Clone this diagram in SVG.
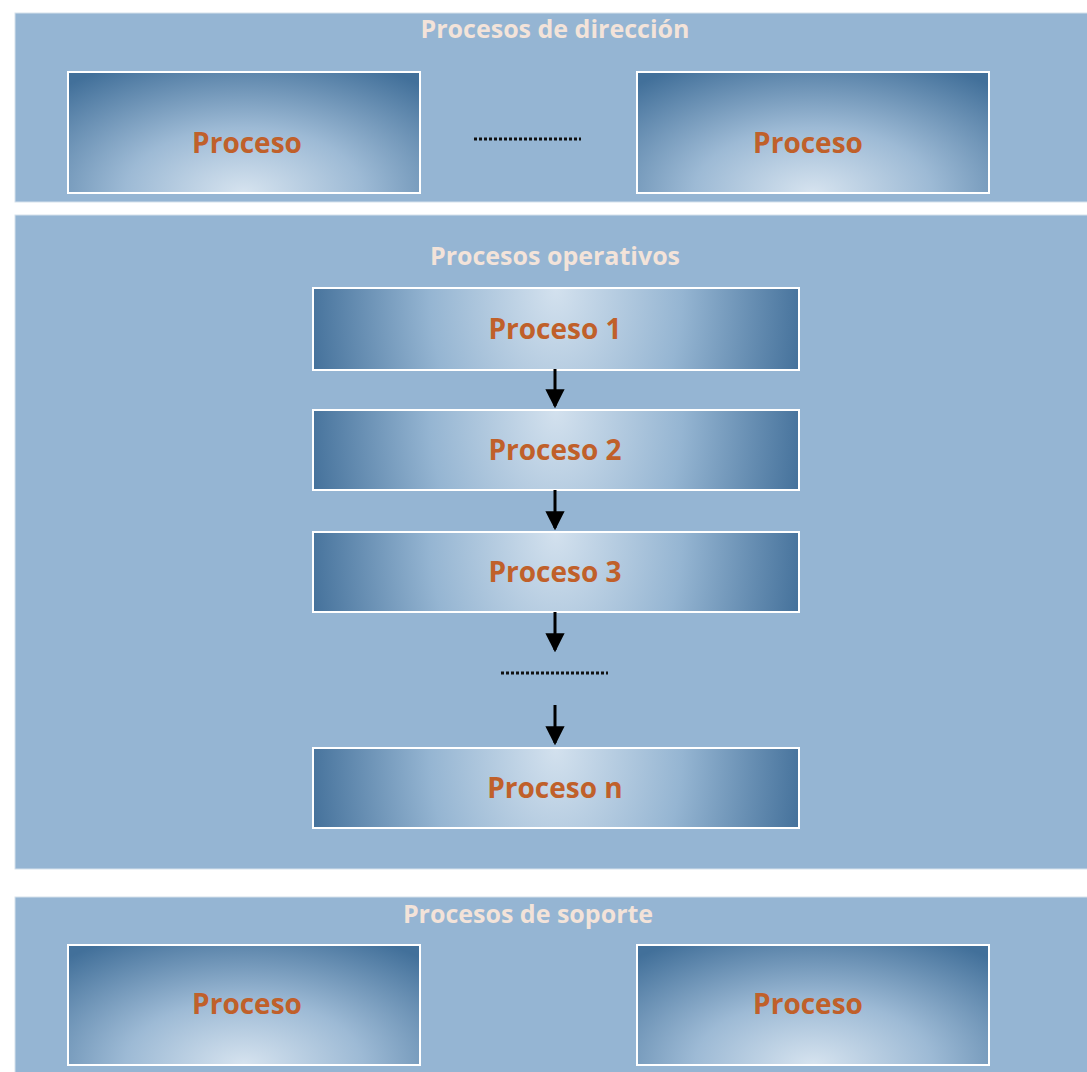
<svg xmlns="http://www.w3.org/2000/svg" width="1087" height="1072" viewBox="0 0 1087 1072">
  <defs>
    <!-- wide boxes: light spot at bottom centre, darker towards corners -->
    <radialGradient id="gWide" cx="0.5" cy="1" r="0.75" gradientTransform="translate(0.5 1) scale(1 1.6) translate(-0.5 -1)">
      <stop offset="0" stop-color="#d6e3ef"/>
      <stop offset="0.45" stop-color="#9dbad5"/>
      <stop offset="1" stop-color="#42709a"/>
    </radialGradient>
    <!-- flow boxes: light at top centre, dark at side edges -->
    <radialGradient id="gFlow" cx="0.5" cy="0" r="0.52" gradientTransform="translate(0.5 0) scale(1 9) translate(-0.5 0)">
      <stop offset="0" stop-color="#d3e1ee"/>
      <stop offset="0.5" stop-color="#95b5d2"/>
      <stop offset="1" stop-color="#426f99"/>
    </radialGradient>
    <marker id="head" markerWidth="6.4" markerHeight="6.4" refX="5.6" refY="3.2" orient="auto" markerUnits="strokeWidth">
      <path d="M0,0 L6.4,3.2 L0,6.4 Z" fill="#000"/>
    </marker>
  </defs>
  <style>
    .band { fill: #95b5d3; stroke: #d5e1ec; stroke-width: 1; }
    .title { font-family: "Open Sans", "Liberation Sans", sans-serif; font-weight: bold; font-size: 25px; fill: #f3e3d9; text-anchor: middle; }
    .wide { fill: url(#gWide); stroke: #ffffff; stroke-width: 2; }
    .flow { fill: url(#gFlow); stroke: #ffffff; stroke-width: 2; }
    .label { font-family: "Open Sans", "Liberation Sans", sans-serif; font-weight: bold; font-size: 28px; fill: #c0602a; text-anchor: middle; }
    .dots { stroke: #111; stroke-width: 3; stroke-dasharray: 3 2; }
    .arrow { stroke: #000; stroke-width: 3; fill: none; marker-end: url(#head); }
  </style>

  <rect width="1087" height="1072" fill="#ffffff"/>

  <!-- Band: management processes -->
  <g id="band-direccion">
    <rect class="band" x="15" y="13" width="1080" height="189"/>
    <text class="title" x="555" y="38">Procesos de dirección</text>
  </g>
  <g id="dir-proceso-a">
    <rect class="wide" x="68" y="72" width="352" height="121"/>
    <text class="label" x="247" y="153">Proceso</text>
  </g>
  <line class="dots" x1="474" y1="139" x2="581" y2="139"/>
  <g id="dir-proceso-b">
    <rect class="wide" x="637" y="72" width="352" height="121"/>
    <text class="label" x="808" y="153">Proceso</text>
  </g>

  <!-- Band: operational processes -->
  <g id="band-operativos">
    <rect class="band" x="15" y="215" width="1080" height="654"/>
    <text class="title" x="555" y="265">Procesos operativos</text>
  </g>
  <g id="proceso-1">
    <rect class="flow" x="313" y="288" width="486" height="82"/>
    <text class="label" x="555" y="339">Proceso 1</text>
  </g>
  <g id="proceso-2">
    <rect class="flow" x="313" y="410" width="486" height="80"/>
    <text class="label" x="555" y="460">Proceso 2</text>
  </g>
  <g id="proceso-3">
    <rect class="flow" x="313" y="532" width="486" height="80"/>
    <text class="label" x="555" y="582">Proceso 3</text>
  </g>
  <line class="dots" x1="501" y1="673" x2="608" y2="673"/>
  <g id="proceso-n">
    <rect class="flow" x="313" y="748" width="486" height="80"/>
    <text class="label" x="555" y="798">Proceso n</text>
  </g>

  <!-- Band: support processes -->
  <g id="band-soporte">
    <rect class="band" x="15" y="897" width="1080" height="185"/>
    <text class="title" x="528" y="923">Procesos de soporte</text>
  </g>
  <g id="sop-proceso-a">
    <rect class="wide" x="68" y="945" width="352" height="120"/>
    <text class="label" x="247" y="1014">Proceso</text>
  </g>
  <g id="sop-proceso-b">
    <rect class="wide" x="637" y="945" width="352" height="120"/>
    <text class="label" x="808" y="1014">Proceso</text>
  </g>

  <!-- Connectors -->
  <g id="connectors">
    <line class="arrow" x1="555" y1="369" x2="555" y2="406"/>
    <line class="arrow" x1="555" y1="490" x2="555" y2="528"/>
    <line class="arrow" x1="555" y1="612" x2="555" y2="650"/>
    <line class="arrow" x1="555" y1="705" x2="555" y2="743"/>
  </g>
</svg>
